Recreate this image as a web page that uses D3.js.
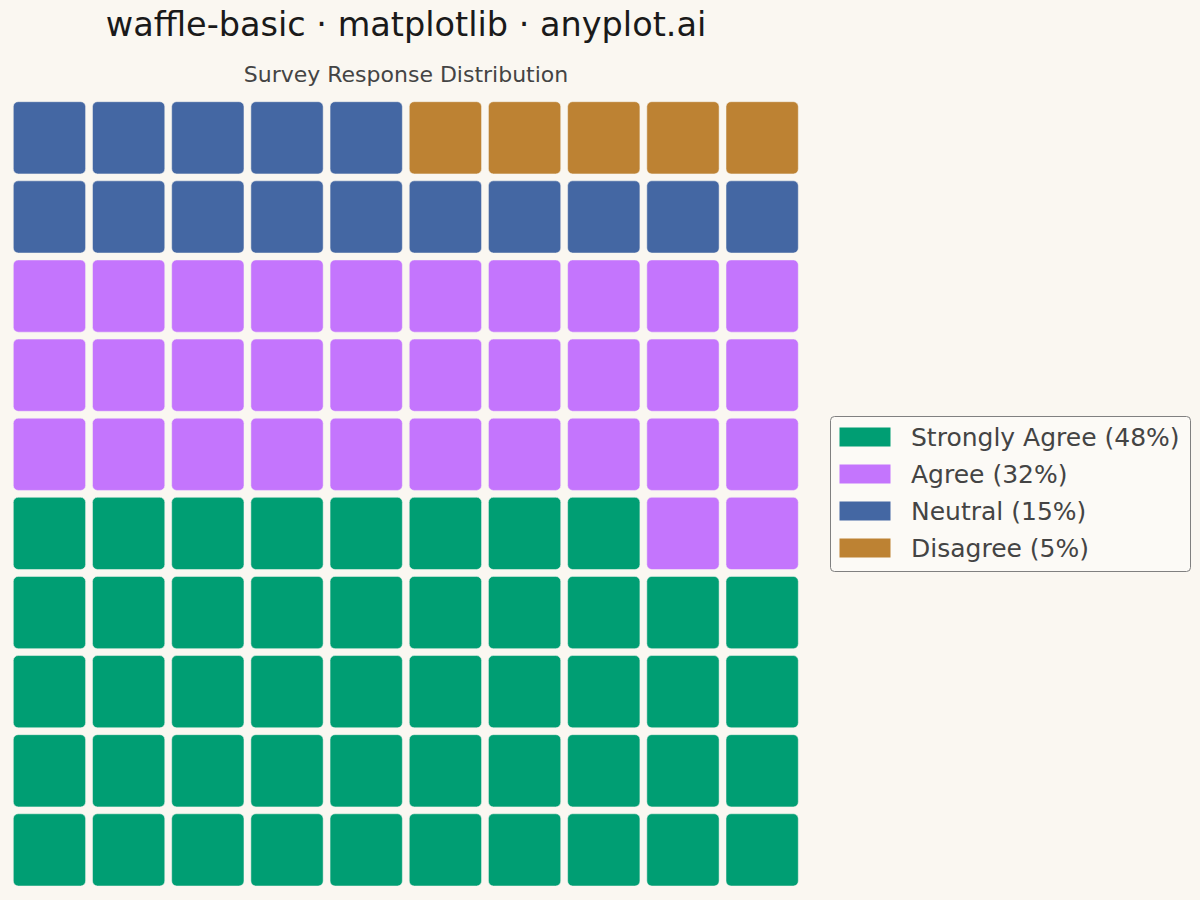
<!DOCTYPE html>
<html>
<head>
<meta charset="utf-8">
<script src="https://cdn.jsdelivr.net/npm/d3@7"></script>
<style>
  body { margin: 0; background: #FAF7F1; }
  svg { display: block; font-family: "DejaVu Sans", sans-serif; }
</style>
</head>
<body>
<script>
// Categories and their share (out of 100 squares)
const categories = ["Strongly Agree", "Agree", "Neutral", "Disagree"];
const values = [48, 32, 15, 5];
const colors = ["#009E73", "#C475FD", "#4467A3", "#BD8233"];

const width = 1200;
const height = 900;
const nCols = 10;
const nRows = 10;
const gap = 6.9;

const svg = d3.select("body")
  .append("svg")
  .attr("width", width)
  .attr("height", height);

svg.append("rect")
  .attr("width", width)
  .attr("height", height)
  .attr("fill", "#FAF7F1");

// Build the 100 cells: fill from bottom-left, row by row going up
const cells = [];
let idx = 0;
categories.forEach((c, ci) => {
  for (let k = 0; k < values[ci]; k++) {
    cells.push({ cat: c, ci: ci, col: idx % nCols, row: Math.floor(idx / nCols) });
    idx++;
  }
});

const x = d3.scaleBand()
  .domain(d3.range(nCols))
  .range([13.3, 798.3 + gap]);

const y = d3.scaleBand()
  .domain(d3.range(nRows))
  .range([886 + gap, 101.7]);

svg.selectAll("rect.cell")
  .data(cells)
  .enter()
  .append("rect")
  .attr("class", "cell")
  .attr("x", d => x(d.col))
  .attr("y", d => y(d.row))
  .attr("width", x.bandwidth() - gap)
  .attr("height", y.bandwidth() - gap)
  .attr("rx", 5)
  .attr("ry", 5)
  .attr("fill", d => colors[d.ci])
  .attr("stroke", "#FAF7F1")
  .attr("stroke-opacity", 0.5)
  .attr("stroke-width", 1);

// Titles
svg.append("text")
  .attr("x", 406)
  .attr("y", 36)
  .attr("text-anchor", "middle")
  .attr("font-size", 33.5)
  .attr("fill", "#1a1a1a")
  .text("waffle-basic · matplotlib · anyplot.ai");

svg.append("text")
  .attr("x", 406)
  .attr("y", 82)
  .attr("text-anchor", "middle")
  .attr("font-size", 22)
  .attr("fill", "#444444")
  .text("Survey Response Distribution");

// Legend
const legend = svg.append("g");
legend.append("rect")
  .attr("x", 830.5)
  .attr("y", 416.5)
  .attr("width", 360)
  .attr("height", 155)
  .attr("rx", 4)
  .attr("fill", "#FCFAF6")
  .attr("stroke", "#808080")
  .attr("stroke-width", 1);

const items = legend.selectAll("g.item")
  .data(categories)
  .enter()
  .append("g")
  .attr("class", "item")
  .attr("transform", (d, i) => `translate(0, ${437 + i * 37})`);

items.append("rect")
  .attr("x", 839.5)
  .attr("y", -9.5)
  .attr("width", 51)
  .attr("height", 19)
  .attr("fill", (d, i) => colors[i]);

items.append("text")
  .attr("x", 911)
  .attr("y", 0)
  .attr("dy", "0.36em")
  .attr("font-size", 25)
  .attr("fill", "#444444")
  .text((d, i) => `${d} (${values[i]}%)`);
</script>
</body>
</html>
